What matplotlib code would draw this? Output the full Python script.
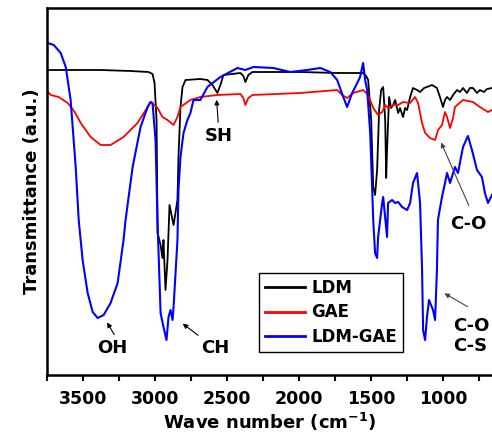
import numpy as np
import matplotlib
matplotlib.use("Agg")
import matplotlib.pyplot as plt

plt.rcParams['font.family'] = ['DejaVu Sans']
plt.rcParams['font.weight'] = 'bold'

# LDM
wn_ldm = [3745, 3378, 3170, 3046, 3018, 3004, 2990, 2983, 2962, 2949, 2942, 2928, 2914, 2900,
          2886, 2872, 2859, 2845, 2838, 2824, 2810, 2789, 2686, 2637, 2602, 2568, 2547, 2526,
          2408, 2388, 2374, 2353, 2325, 1993, 1737, 1557, 1536, 1522, 1501, 1487, 1474, 1460,
          1446, 1432, 1418, 1404, 1397, 1391, 1377, 1363, 1349, 1335, 1314, 1301, 1280, 1266,
          1252, 1231, 1211, 1183, 1162, 1134, 1114, 1079, 1045, 1024, 1003, 989, 975, 954,
          933, 906, 885, 864, 837, 816, 795, 767, 747, 719, 698, 663]
t_ldm = [305, 305, 304, 303, 301, 292, 255, 142, 130, 117, 135, 85, 115, 170,
         160, 150, 162, 175, 218, 268, 288, 295, 296, 295, 290, 282, 290, 300,
         302, 299, 293, 300, 303, 303, 302, 302, 299, 295, 255, 188, 180, 205,
         265, 285, 288, 255, 197, 225, 278, 267, 270, 275, 262, 267, 258, 267,
         265, 278, 287, 285, 283, 287, 288, 290, 287, 278, 268, 275, 278, 275,
         280, 285, 283, 287, 282, 287, 287, 282, 285, 283, 286, 287]

# GAE
wn_gae = [3745, 3724, 3669, 3606, 3558, 3516, 3447, 3378, 3309, 3219, 3122, 3052, 3032, 2983,
          2949, 2914, 2872, 2845, 2824, 2755, 2686, 2568, 2408, 2388, 2374, 2353, 2325, 1993,
          1737, 1702, 1668, 1626, 1557, 1522, 1487, 1453, 1425, 1404, 1384, 1349, 1314, 1280,
          1231, 1197, 1176, 1148, 1127, 1093, 1058, 1037, 1010, 989, 975, 954, 933, 920,
          864, 795, 747, 691, 663]
t_gae = [283, 280, 278, 272, 263, 252, 238, 230, 230, 238, 252, 268, 273, 267,
         258, 255, 250, 258, 268, 275, 278, 280, 281, 277, 270, 277, 280, 282,
         285, 280, 277, 282, 285, 280, 267, 260, 263, 270, 267, 270, 270, 273,
         272, 278, 272, 252, 242, 237, 235, 245, 250, 263, 258, 247, 257, 268,
         275, 273, 268, 263, 265]

# LDM-GAE
wn_mix = [3745, 3703, 3655, 3620, 3586, 3551, 3530, 3503, 3468, 3433, 3399, 3357, 3309, 3260,
          3219, 3205, 3156, 3101, 3052, 3032, 3018, 2997, 2983, 2962, 2942, 2921, 2907, 2893,
          2879, 2872, 2845, 2838, 2824, 2803, 2776, 2755, 2734, 2686, 2637, 2547, 2429, 2374,
          2318, 2180, 2062, 1945, 1854, 1785, 1737, 1695, 1668, 1633, 1598, 1578, 1557, 1543,
          1529, 1508, 1494, 1487, 1474, 1460, 1453, 1425, 1418, 1391, 1384, 1356, 1335, 1314,
          1287, 1252, 1231, 1211, 1183, 1162, 1148, 1141, 1127, 1114, 1100, 1072, 1058, 1045,
          1038, 1010, 989, 975, 954, 920, 899, 864, 830, 802, 767, 733, 712, 691, 663]
t_mix = [332, 330, 322, 308, 275, 208, 155, 115, 82, 63, 57, 60, 72, 92,
         135, 155, 208, 248, 268, 273, 272, 235, 152, 62, 48, 35, 58, 65,
         55, 68, 135, 185, 218, 242, 255, 262, 275, 275, 288, 298, 307, 305,
         308, 307, 303, 305, 307, 303, 295, 278, 268, 282, 292, 298, 312, 295,
         285, 242, 185, 155, 122, 117, 138, 172, 178, 138, 172, 175, 172, 173,
         168, 165, 172, 192, 202, 172, 105, 45, 35, 58, 75, 65, 55, 105,
         155, 178, 192, 202, 192, 208, 202, 228, 239, 225, 205, 198, 182, 172, 180]

# peak labels: text, text position, arrow tip
labels = ["OH", "CH", "SH", "C-O", "C-O\nC-S"]
text_pos = [(3295, 27), (2582, 27), (2561, 239), (830, 151), (935, 39)]
tip_pos = [(3343, 55), (2824, 53), (2575, 278), (1024, 235), (1010, 83)]
tail_pos = [(3274, 38), (2686, 38), (2561, 250), (816, 167), (816, 67)]

fig = plt.figure(figsize=(4.92, 4.38), dpi=100)
ax = fig.add_axes([47/492, 63/438, 445/492, 367/438])

ax.plot(wn_ldm, t_ldm, color='black', lw=1.3, label='LDM')
ax.plot(wn_gae, t_gae, color='red', lw=1.3, label='GAE')
ax.plot(wn_mix, t_mix, color='blue', lw=1.5, label='LDM-GAE')

ax.set_xlim(3745, 663)
ax.set_ylim(0, 367)
ax.set_xticks([3500, 3000, 2500, 2000, 1500, 1000])
ax.set_xticks(np.arange(3750, 650, -250), minor=True)
ax.set_yticks([])
ax.tick_params(axis='x', which='both', direction='out', length=4, width=1.5, pad=7, labelsize=12.5)
for lab in ax.get_xticklabels():
    lab.set_fontweight('bold')
for s in ['left', 'bottom', 'top']:
    ax.spines[s].set_linewidth(1.8)
ax.spines['right'].set_visible(False)

ax.set_xlabel('Wave number (cm$^{\\mathbf{-1}}$)', fontsize=13, fontweight='bold', labelpad=2)
ax.set_ylabel('Transmittance (a.u.)', fontsize=13, fontweight='bold', labelpad=4)

for i, lab in enumerate(labels):
    ax.text(text_pos[i][0], text_pos[i][1], lab, fontsize=13, fontweight='bold',
            ha='center' if i < 4 else 'left', va='center', linespacing=1.2)
    col = '#444444' if i >= 3 else 'black'
    ax.annotate('', xy=tip_pos[i], xytext=tail_pos[i],
                arrowprops=dict(arrowstyle='-|>', color=col, lw=0.8, mutation_scale=7))

leg = ax.legend(loc='upper left', bbox_to_anchor=(0.476, 0.278), borderaxespad=0,
                fancybox=False, edgecolor='black', framealpha=1, fontsize=12,
                handlelength=2.4, labelspacing=0.4, borderpad=0.35, handletextpad=0.4)
leg.get_frame().set_linewidth(1.0)
for t in leg.get_texts():
    t.set_fontweight('bold')
for l in leg.get_lines():
    l.set_linewidth(2)

fig.savefig('out.png', dpi=100)
